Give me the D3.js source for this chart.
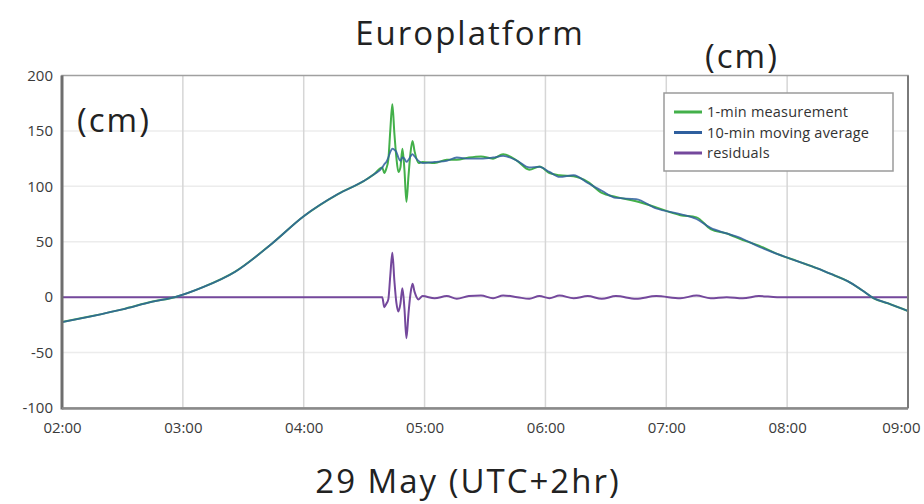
<!DOCTYPE html>
<html>
<head>
<meta charset="utf-8">
<script src="https://cdn.jsdelivr.net/npm/d3@7"></script>
<style>
  html, body { margin: 0; padding: 0; background: #fff; }
  svg { display: block; }
</style>
</head>
<body>
<svg id="chart" width="924" height="504"></svg>
<script>
// Sea level at Europlatform, 29 May (local time, UTC+2)
const times = ["02:00","02:15","02:30","02:45","02:56","03:10","03:26","03:44","04:00","04:17",
  "04:30","04:35","04:39","04:40","04:41","04:42","04:43","04:44","04:45","04:46",
  "04:47","04:48","04:49","04:50","04:51","04:52","04:53","04:54","04:55","04:57",
  "04:59","05:05","05:11","05:16","05:22","05:28","05:34","05:39","05:46","05:52",
  "05:57","06:02","06:07","06:14","06:21","06:28","06:35","06:45","06:55","07:07",
  "07:15","07:22","07:30","07:38","07:46","07:55","08:05","08:15","08:23","08:30",
  "08:37","08:43","08:50","09:00"];

const measurement = [-22.5,-17,-11,-4,0,9,23,48,73,93,
  105,111,117,112,116,124,151,174,148,126,
  113,117,134,115,86,109,130,141,132,121,
  122,121,124,124,126,127,125,129,123,115,
  118,112,110,109,104,94,90.5,86.5,81,74,
  72,61.5,57.5,51.5,46.5,39,32.5,26,20,14.5,
  6.5,-1,-5.5,-12.5];

const movingAverage = [-22.5,-17,-11,-4,0,9,23,48,73,93,
  105,111,117,120,122,126,131,134,133,131,
  126,123,126,125,122,124,127,129,127,123,
  121,122,123,126,125,125,126,127.5,123,117,
  117.5,113,108.5,110,103,96,89.5,88.5,80,75,
  70.5,62.5,57.5,52.5,45.5,39,32.5,26,20,14.5,
  6.5,-1,-5.5,-12.5];

const residuals = [0,0,0,0,0,0,0,0,0,0,
  0,0,0,-9,-6,-2,20,40,15,-5,
  -13,-6,8,-10,-37,-15,3,12,5,-2,
  1,-1,1,-1.5,1,1.5,-1,1.5,0,-1.5,
  1,-1,1.5,-1,1,-1.5,1,-1.5,1,-1,
  1.5,-1,0,-1,1,0,0,0,0,0,
  0,0,0,0];

const yTicks = [-100,-50,0,50,100,150,200];
const xTickLabels = ["02:00","03:00","04:00","05:00","06:00","07:00","08:00","09:00"];

const seriesNames = ["1-min measurement","10-min moving average","residuals"];
const seriesColors = ["#43b04a","#2f5f9e","#74489c"];

const svg = d3.select("#chart");
const plot = { left: 62, right: 908, top: 75.5, bottom: 408 };

const parseT = d3.timeParse("%H:%M");
const fmtT = d3.timeFormat("%H:%M");
const tDates = times.map(parseT);

const x = d3.scaleTime()
  .domain([parseT("02:00"), parseT("09:00")])
  .range([plot.left, plot.right]);
const y = d3.scaleLinear()
  .domain([-100, 200])
  .range([plot.bottom, plot.top]);

const font = "'Open Sans', 'Noto Sans', sans-serif";

// plot background
svg.append("rect")
  .attr("x", plot.left).attr("y", plot.top)
  .attr("width", plot.right - plot.left).attr("height", plot.bottom - plot.top)
  .attr("fill", "#fff");

// horizontal gridlines
svg.append("g")
  .selectAll("line")
  .data(yTicks.filter(v => v > -100 && v < 200))
  .join("line")
  .attr("x1", plot.left).attr("x2", plot.right)
  .attr("y1", d => y(d)).attr("y2", d => y(d))
  .attr("stroke", "#ececec").attr("stroke-width", 1.5);

// vertical gridlines
svg.append("g")
  .selectAll("line")
  .data(xTickLabels.map(parseT).slice(1, -1))
  .join("line")
  .attr("x1", d => x(d)).attr("x2", d => x(d))
  .attr("y1", plot.top).attr("y2", plot.bottom)
  .attr("stroke", "#d6d6d6").attr("stroke-width", 1.5);

// y axis tick labels
const yAxis = d3.axisLeft(y).tickValues(yTicks).tickSize(0).tickPadding(9)
  .tickFormat(d => String(d));
const gy = svg.append("g").attr("transform", `translate(${plot.left},0)`).call(yAxis);
gy.select(".domain").remove();
gy.selectAll("text").attr("font-family", font).attr("font-size", 15).attr("fill", "#3a3a3a");

// x axis tick labels
const xAxis = d3.axisBottom(x)
  .tickValues(xTickLabels.map(parseT))
  .tickFormat(fmtT).tickSize(0).tickPadding(14);
const gx = svg.append("g").attr("transform", `translate(0,${plot.bottom})`).call(xAxis);
gx.select(".domain").remove();
gx.selectAll("text").attr("font-family", font).attr("font-size", 15).attr("fill", "#3a3a3a");
// keep the last label inside the page
gx.selectAll(".tick:last-of-type text").attr("text-anchor", "end").attr("dx", 12);

// series lines
const line = vals => d3.line()
  .curve(d3.curveMonotoneX)
  .x((d, i) => x(tDates[i]))
  .y(d => y(d))(vals);

const lines = svg.append("g");
lines.append("path").attr("d", line(residuals))
  .attr("fill", "none").attr("stroke", seriesColors[2]).attr("stroke-width", 2);
lines.append("path").attr("d", line(measurement))
  .attr("fill", "none").attr("stroke", seriesColors[0]).attr("stroke-width", 2);
lines.append("path").attr("d", line(movingAverage))
  .attr("fill", "none").attr("stroke", seriesColors[1]).attr("stroke-width", 1.8)
  .attr("stroke-opacity", 0.85);

// plot frame
svg.append("rect")
  .attr("x", plot.left).attr("y", plot.top)
  .attr("width", plot.right - plot.left).attr("height", plot.bottom - plot.top)
  .attr("fill", "none").attr("stroke", "#a0a0a0").attr("stroke-width", 1.5);
svg.append("line")
  .attr("x1", plot.left).attr("x2", plot.left)
  .attr("y1", plot.top).attr("y2", plot.bottom + 1.5)
  .attr("stroke", "#6e6e6e").attr("stroke-width", 3);
svg.append("line")
  .attr("x1", plot.left).attr("x2", plot.right)
  .attr("y1", plot.bottom + 0.5).attr("y2", plot.bottom + 0.5)
  .attr("stroke", "#8a8a8a").attr("stroke-width", 2.5);
svg.append("line")
  .attr("x1", plot.right).attr("x2", plot.right)
  .attr("y1", plot.top).attr("y2", plot.bottom)
  .attr("stroke", "#7a7a7a").attr("stroke-width", 2);

// legend
const lg = svg.append("g").attr("transform", "translate(664,93)");
lg.append("rect").attr("width", 229).attr("height", 78)
  .attr("fill", "#fff").attr("stroke", "#9a9a9a").attr("stroke-width", 1.5);
const items = lg.selectAll("g.item").data(seriesNames).join("g")
  .attr("class", "item")
  .attr("transform", (d, i) => `translate(10,${19 + i * 20.5})`);
items.append("line").attr("x1", 0).attr("x2", 28)
  .attr("stroke", (d, i) => seriesColors[i]).attr("stroke-width", 3);
items.append("text").attr("x", 33).attr("dy", "0.35em")
  .attr("font-family", font).attr("font-size", 14.5).attr("fill", "#333")
  .attr("letter-spacing", 0.2)
  .text(d => d);

// titles and unit labels
const big = (tx, ty, s) => svg.append("text")
  .attr("x", tx).attr("y", ty).attr("text-anchor", "middle")
  .attr("font-family", font).attr("font-size", 33).attr("letter-spacing", 2)
  .attr("fill", "#222").text(s);
big(470, 45, "Europlatform");
big(742, 68, "(cm)");
big(114, 132, "(cm)");
big(468, 493, "29 May (UTC+2hr)");
</script>
</body>
</html>
